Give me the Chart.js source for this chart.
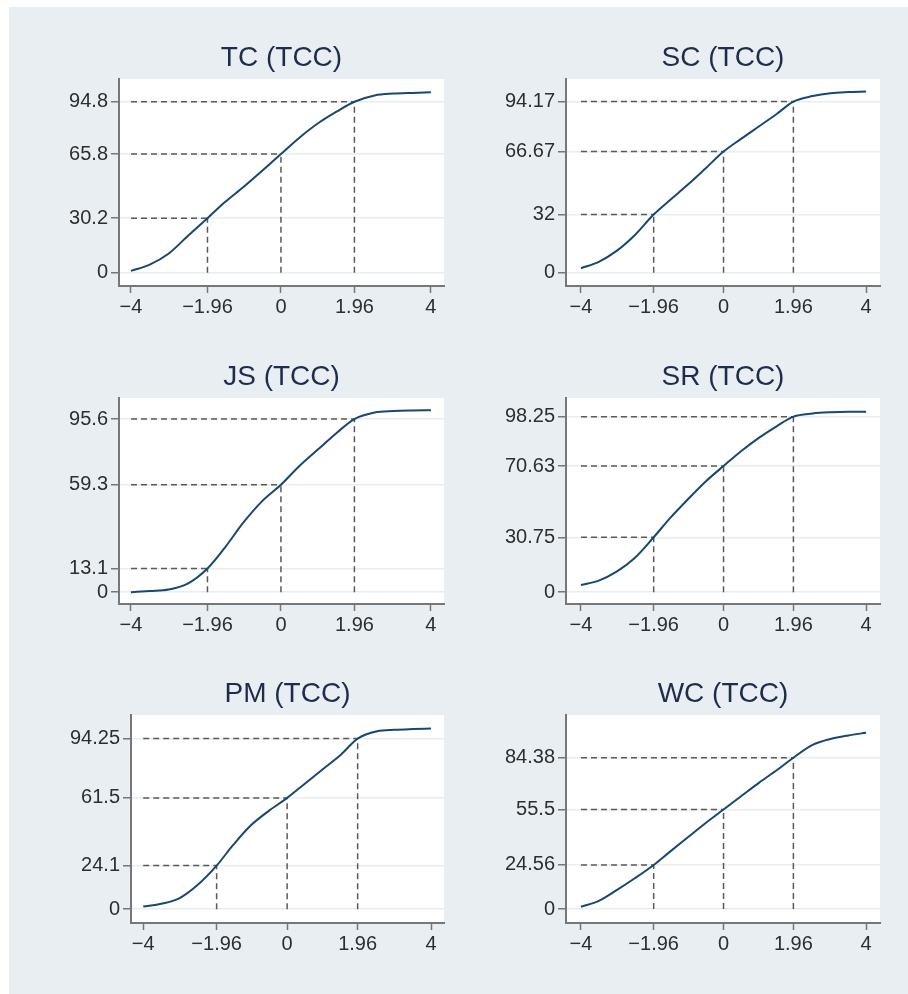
<!DOCTYPE html>
<html><head><meta charset="utf-8">
<script src="https://cdn.jsdelivr.net/npm/chart.js@4"></script>
<style>
html,body{margin:0;padding:0;background:#ffffff;}
#bg{position:absolute;left:9px;top:7px;width:899px;height:987px;background:#e8eef2;}
canvas{position:absolute;}
</style></head><body>
<div id="bg"></div>
<script>
// ---- data ----
const zPoints = [-4, -3.5, -3, -2.5, -1.96, -1.5, -1, -0.5, 0, 0.5, 1, 1.5, 1.96, 2.5, 3, 3.5, 4];
const tcValues = [1.0, 4.5, 10.5, 20, 30.2, 39, 47.5, 56.5, 65.8, 75, 83, 89.5, 94.8, 98.3, 99.3, 99.7, 100];
const scValues = [2.5, 6, 12, 20.5, 32, 40, 48.5, 57.5, 66.67, 73.8, 80.6, 87.5, 94.17, 97.2, 98.8, 99.4, 99.7];
const jsValues = [0, 0.7, 1.5, 4.6, 13.1, 24.5, 38.5, 50.3, 59.3, 69.8, 79, 88.2, 95.6, 99.2, 100, 100.3, 100.4];
const srValues = [4, 6.5, 11.5, 19, 30.75, 41.5, 52, 62, 70.63, 79, 86.5, 93, 98.25, 100, 100.7, 101, 101];
const pmValues = [1.5, 3, 6, 13.2, 24.1, 35.5, 46.5, 54.5, 61.5, 69.5, 77.5, 85.5, 94.25, 98.3, 99.1, 99.5, 99.8];
const wcValues = [1.3, 4.5, 10.5, 17, 24.56, 32, 40, 48, 55.5, 63, 70.5, 77.5, 84.38, 91.5, 94.8, 96.8, 98.3];

const xTickValues = [-4, -1.96, 0, 1.96, 4];
const xTickLabels = ['\u22124', '\u22121.96', '0', '1.96', '4'];
const refZ = [-1.96, 0, 1.96];

const tcTicks = [0, 30.2, 65.8, 94.8];
const tcTickLabels = ['0', '30.2', '65.8', '94.8'];
const scTicks = [0, 32, 66.67, 94.17];
const scTickLabels = ['0', '32', '66.67', '94.17'];
const jsTicks = [0, 13.1, 59.3, 95.6];
const jsTickLabels = ['0', '13.1', '59.3', '95.6'];
const srTicks = [0, 30.75, 70.63, 98.25];
const srTickLabels = ['0', '30.75', '70.63', '98.25'];
const pmTicks = [0, 24.1, 61.5, 94.25];
const pmTickLabels = ['0', '24.1', '61.5', '94.25'];
const wcTicks = [0, 24.56, 55.5, 84.38];
const wcTickLabels = ['0', '24.56', '55.5', '84.38'];

const titles = ['TC (TCC)', 'SC (TCC)', 'JS (TCC)', 'SR (TCC)', 'PM (TCC)', 'WC (TCC)'];

const panels = [
  {title: titles[0], values: tcValues, ticks: tcTicks, labels: tcTickLabels},
  {title: titles[1], values: scValues, ticks: scTicks, labels: scTickLabels},
  {title: titles[2], values: jsValues, ticks: jsTicks, labels: jsTickLabels},
  {title: titles[3], values: srValues, ticks: srTicks, labels: srTickLabels},
  {title: titles[4], values: pmValues, ticks: pmTicks, labels: pmTickLabels},
  {title: titles[5], values: wcValues, ticks: wcTicks, labels: wcTickLabels}
];

// ---- layout (plot-area rectangles in page pixels, axis ranges) ----
const layouts = [
  {l: 119, r: 444, t: 79,  b: 286, xmin: -4.32, xmax: 4.35, ymin: -7.4, ymax: 107.4},
  {l: 566, r: 880, t: 79,  b: 286, xmin: -4.42, xmax: 4.39, ymin: -7.3, ymax: 106.6},
  {l: 119, r: 444, t: 398, b: 604, xmin: -4.32, xmax: 4.35, ymin: -6.5, ymax: 107.2},
  {l: 566, r: 880, t: 398, b: 604, xmin: -4.42, xmax: 4.39, ymin: -6.6, ymax: 108.7},
  {l: 131, r: 444, t: 715, b: 923, xmin: -4.34, xmax: 4.36, ymin: -7.6, ymax: 107.3},
  {l: 566, r: 880, t: 715, b: 923, xmin: -4.42, xmax: 4.39, ymin: -7.8, ymax: 108.2}
];

const FONT = 'Liberation Sans, Arial, sans-serif';
const whiteArea = {
  id: 'whiteArea',
  beforeDraw(chart) {
    const a = chart.chartArea, ctx = chart.ctx;
    ctx.save(); ctx.fillStyle = '#ffffff';
    ctx.fillRect(a.left, a.top, a.right - a.left, a.bottom - a.top);
    ctx.restore();
  }
};

function makeChart(p, L) {
  const YW = 100, TH = 80, XH = 50, RP = 12;
  const w = (L.r - L.l) + YW + RP, h = (L.b - L.t) + TH + XH;
  const cv = document.createElement('canvas');
  cv.width = w; cv.height = h;
  cv.style.width = w + 'px'; cv.style.height = h + 'px';
  cv.style.left = (L.l - YW) + 'px'; cv.style.top = (L.t - TH) + 'px';
  document.body.appendChild(cv);

  const dash = {showLine: true, borderColor: '#5a5a5a', borderWidth: 1.5, borderDash: [6, 4],
                pointRadius: 0, tension: 0, fill: false};
  const datasets = [{
    data: zPoints.map((z, i) => ({x: z, y: p.values[i]})),
    showLine: true, borderColor: '#1a476f', borderWidth: 2, pointRadius: 0,
    cubicInterpolationMode: 'monotone', fill: false
  }];
  refZ.forEach((z, k) => {
    const yv = p.ticks[k + 1];
    datasets.push(Object.assign({data: [{x: -4, y: yv}, {x: z, y: yv}]}, dash));
    datasets.push(Object.assign({data: [{x: z, y: 0}, {x: z, y: yv}]}, dash));
  });

  new Chart(cv, {
    type: 'scatter',
    data: {datasets},
    options: {
      responsive: false, animation: false, devicePixelRatio: 1,
      layout: {padding: {left: 0, right: RP, top: 0, bottom: 0}},
      plugins: {
        legend: {display: false}, tooltip: {enabled: false},
        title: {display: true, text: p.title, fullSize: false, color: '#1f2d4d',
                font: {family: FONT, size: 28, weight: 'normal', lineHeight: 1.2},
                padding: {top: 42.2, bottom: 4.2}}
      },
      scales: {
        x: {
          type: 'linear', min: L.xmin, max: L.xmax,
          afterFit: s => { s.height = XH; },
          afterBuildTicks: s => { s.ticks = xTickValues.map(v => ({value: v})); },
          ticks: {autoSkip: false, maxRotation: 0, padding: 2, color: '#2e2e2e',
                  font: {family: FONT, size: 20},
                  callback: (v, i) => xTickLabels[i]},
          grid: {drawOnChartArea: false, tickLength: 7, tickColor: '#777777', tickWidth: 1.5},
          border: {color: '#777777', width: 2}
        },
        y: {
          type: 'linear', min: L.ymin, max: L.ymax,
          afterFit: s => { s.width = YW; },
          afterBuildTicks: s => { s.ticks = p.ticks.map(v => ({value: v})); },
          ticks: {autoSkip: false, padding: 3, color: '#2e2e2e',
                  font: {family: FONT, size: 20},
                  callback: (v, i) => p.labels[i]},
          grid: {color: '#e6eef1', lineWidth: 1.5, tickLength: 8, tickColor: '#777777', tickWidth: 1.5},
          border: {color: '#777777', width: 2}
        }
      }
    },
    plugins: [whiteArea]
  });
}

panels.forEach((p, i) => makeChart(p, layouts[i]));
</script>
</body></html>
